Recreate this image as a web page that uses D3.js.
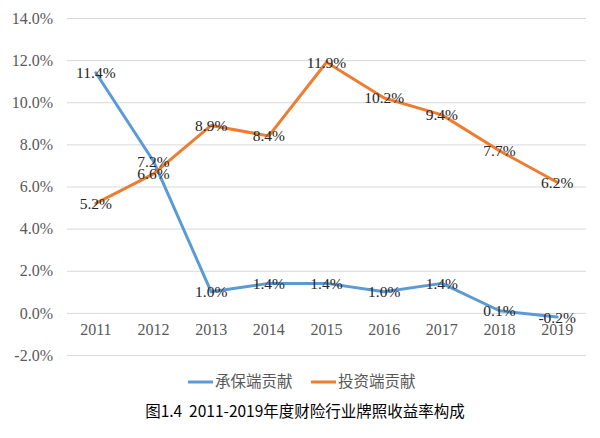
<!DOCTYPE html>
<html>
<head>
<meta charset="utf-8">
<script src="https://cdn.jsdelivr.net/npm/d3@7"></script>
<style>
  body { margin: 0; background: #fff; }
  .tick text { font-family: "Liberation Serif", serif; font-size: 16px; fill: #595959; }
  .lbl { font-family: "Liberation Serif", serif; font-size: 15.5px; fill: #262626; }
  .cjk { font-family: "Noto Sans CJK SC", sans-serif; }
</style>
</head>
<body>
<svg width="600" height="438"></svg>
<script>
(function () {
  'use strict'
  const years = ['2011', '2012', '2013', '2014', '2015', '2016', '2017', '2018', '2019'];
  const underwriting = [11.4, 7.2, 1.0, 1.4, 1.4, 1.0, 1.4, 0.1, -0.2];
  const investment = [5.2, 6.6, 8.9, 8.4, 11.9, 10.2, 9.4, 7.7, 6.2];
  const yTicks = [-2, 0, 2, 4, 6, 8, 10, 12, 14];
  const seriesNames = ['承保端贡献', '投资端贡献'];
  const colors = ['#5B9BD5', '#ED7D31'];

  const svg = d3.select('svg');
  const left = 67, right = 586, top = 18, bottom = 355;

  const x = d3.scaleBand().domain(years).range([left, right]);
  const y = d3.scaleLinear().domain([-2, 14]).range([bottom, top]);

  // gridlines + y labels
  const yAxis = svg.append('g')
    .attr('transform', `translate(${left},0)`)
    .call(d3.axisLeft(y).tickValues(yTicks).tickFormat(d => d.toFixed(1) + '%')
      .tickSize(-(right - left)).tickPadding(14));
  yAxis.select('.domain').remove();
  yAxis.selectAll('.tick line').attr('stroke', '#D9D9D9').attr('stroke-width', 1);

  // x labels at the zero line
  const xAxis = svg.append('g')
    .attr('transform', `translate(0,${y(0)})`)
    .call(d3.axisBottom(x).tickSize(0).tickPadding(11));
  xAxis.select('.domain').remove();

  const line = d3.line().x((d, i) => x(years[i]) + x.bandwidth() / 2).y(d => y(d));
  [underwriting, investment].forEach((s, k) => {
    svg.append('path').datum(s)
      .attr('d', line).attr('fill', 'none')
      .attr('stroke', colors[k]).attr('stroke-width', 3)
      .attr('stroke-linejoin', 'round').attr('stroke-linecap', 'round');
  });
  [underwriting, investment].forEach(s => {
    svg.append('g').selectAll('text').data(s).enter().append('text')
      .attr('class', 'lbl')
      .attr('x', (d, i) => x(years[i]) + x.bandwidth() / 2)
      .attr('y', d => y(d))
      .attr('dy', '0.35em')
      .attr('text-anchor', 'middle')
      .text(d => d.toFixed(1) + '%');
  });

  // legend
  const legend = svg.append('g');
  const lx = [188, 311];
  seriesNames.forEach((n, k) => {
    legend.append('line')
      .attr('x1', lx[k]).attr('x2', lx[k] + 25)
      .attr('y1', 382).attr('y2', 382)
      .attr('stroke', colors[k]).attr('stroke-width', 3);
    legend.append('text').attr('class', 'cjk')
      .attr('x', lx[k] + 27).attr('y', 382).attr('dy', '0.35em')
      .attr('font-size', 15.5).attr('fill', '#595959')
      .text(n);
  });

  // caption
  svg.append('text').attr('class', 'cjk')
    .attr('x', 305).attr('y', 412).attr('dy', '0.35em')
    .attr('text-anchor', 'middle').attr('font-size', 15.5).attr('fill', '#000')
    .attr('xml:space', 'preserve')
    .text('图1.4  2011-2019年度财险行业牌照收益率构成');
}());
</script>
</body>
</html>
